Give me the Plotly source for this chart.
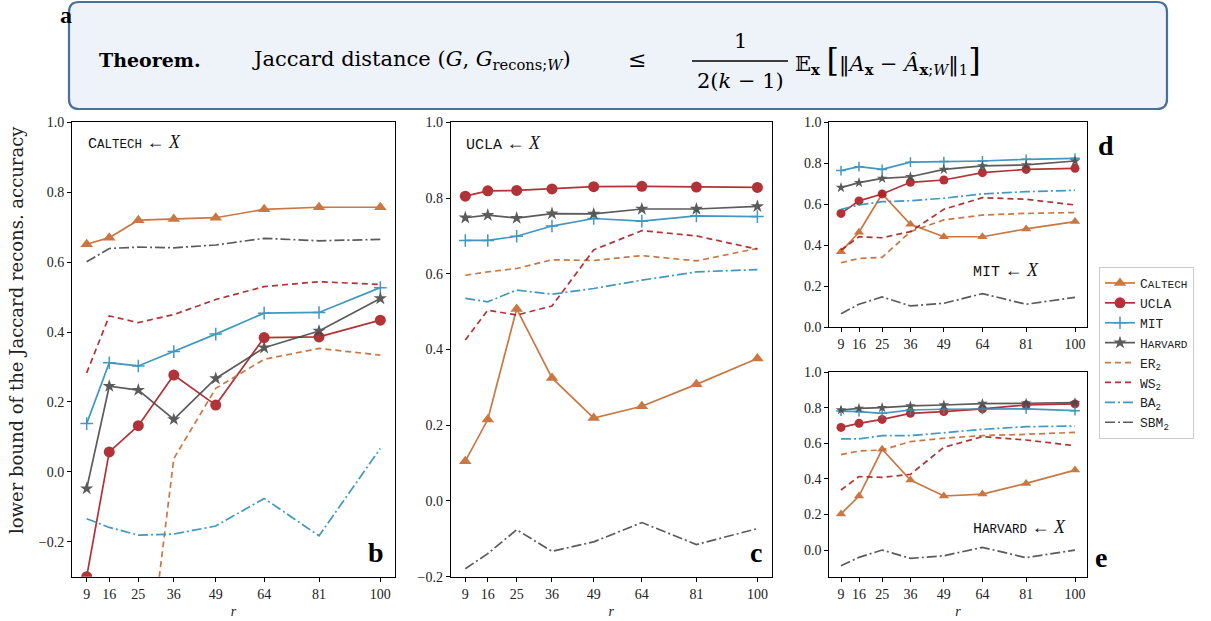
import plotly.graph_objects as go

# ---------------- data ----------------
r_vals = [9, 16, 25, 36, 49, 64, 81, 100]
r_ticks = ["9", "16", "25", "36", "49", "64", "81", "100"]

# panel b: Caltech <- X
b_caltech = [0.651, 0.670, 0.720, 0.723, 0.727, 0.751, 0.757, 0.757]
b_ucla = [-0.300, 0.057, 0.132, 0.277, 0.191, 0.384, 0.386, 0.434]
b_mit = [0.138, 0.312, 0.303, 0.344, 0.394, 0.454, 0.456, 0.527]
b_harvard = [-0.048, 0.245, 0.234, 0.150, 0.267, 0.355, 0.403, 0.496]
b_er = [-1.60, -1.20, -0.79, 0.038, 0.239, 0.322, 0.353, 0.334]
b_ws = [0.283, 0.446, 0.427, 0.450, 0.493, 0.530, 0.544, 0.536]
b_ba = [-0.134, -0.159, -0.181, -0.178, -0.155, -0.076, -0.183, 0.067]
b_sbm = [0.601, 0.639, 0.643, 0.641, 0.649, 0.668, 0.661, 0.665]

# panel c: UCLA <- X
c_caltech = [0.105, 0.215, 0.507, 0.325, 0.219, 0.250, 0.308, 0.376]
c_ucla = [0.805, 0.819, 0.820, 0.824, 0.830, 0.831, 0.829, 0.828]
c_mit = [0.688, 0.688, 0.699, 0.726, 0.746, 0.739, 0.753, 0.751]
c_harvard = [0.748, 0.755, 0.747, 0.759, 0.758, 0.771, 0.771, 0.778]
c_er = [0.596, 0.605, 0.614, 0.637, 0.635, 0.648, 0.634, 0.667]
c_ws = [0.425, 0.504, 0.491, 0.515, 0.663, 0.714, 0.700, 0.665]
c_ba = [0.535, 0.526, 0.557, 0.546, 0.561, 0.583, 0.605, 0.611]
c_sbm = [-0.179, -0.139, -0.076, -0.133, -0.108, -0.057, -0.115, -0.073]

# panel d: MIT <- X
d_caltech = [0.368, 0.463, 0.650, 0.502, 0.441, 0.441, 0.479, 0.515]
d_ucla = [0.555, 0.616, 0.650, 0.707, 0.718, 0.754, 0.770, 0.775]
d_mit = [0.764, 0.783, 0.770, 0.805, 0.808, 0.811, 0.819, 0.824]
d_harvard = [0.681, 0.705, 0.726, 0.734, 0.770, 0.787, 0.792, 0.811]
d_er = [0.314, 0.335, 0.340, 0.466, 0.523, 0.547, 0.555, 0.559]
d_ws = [0.376, 0.441, 0.436, 0.466, 0.575, 0.632, 0.624, 0.596]
d_ba = [0.575, 0.596, 0.612, 0.617, 0.629, 0.650, 0.661, 0.668]
d_sbm = [0.065, 0.111, 0.147, 0.103, 0.116, 0.163, 0.111, 0.145]

# panel e: Harvard <- X
e_caltech = [0.203, 0.304, 0.567, 0.394, 0.304, 0.315, 0.375, 0.450]
e_ucla = [0.690, 0.713, 0.735, 0.769, 0.779, 0.794, 0.816, 0.822]
e_mit = [0.782, 0.779, 0.769, 0.788, 0.792, 0.792, 0.794, 0.784]
e_harvard = [0.788, 0.797, 0.801, 0.811, 0.816, 0.824, 0.826, 0.829]
e_er = [0.537, 0.557, 0.563, 0.610, 0.629, 0.644, 0.651, 0.662]
e_ws = [0.338, 0.413, 0.409, 0.426, 0.578, 0.638, 0.619, 0.587]
e_ba = [0.625, 0.625, 0.644, 0.644, 0.660, 0.679, 0.694, 0.698]
e_sbm = [-0.088, -0.041, 0.000, -0.047, -0.032, 0.015, -0.043, 0.000]

# ---------------- style ----------------
W, H = 1211, 621
ORANGE = "#c4692f"
RED = "#a91e22"
BLUE = "#2d8dba"
GRAY = "#4a4a4a"
SERIF = "Liberation Serif, DejaVu Serif, serif"
WSERIF = "DejaVu Serif, Liberation Serif, serif"
MONO = "Liberation Mono, DejaVu Sans Mono, monospace"
DASH = "6px,4px"
DASHDOT = "10px,3px,2px,3px"


def sc(first, rest, big=15, small=12):
    return f"<span style='font-size:{big}px'>{first}</span><span style='font-size:{small}px'>{rest}</span>"


names = [
    sc("C", "ALTECH", 13, 11),
    "UCLA",
    "MIT",
    sc("H", "ARVARD", 13, 11),
    "ER<sub>2</sub>",
    "WS<sub>2</sub>",
    "BA<sub>2</sub>",
    "SBM<sub>2</sub>",
]
colors = [ORANGE, RED, BLUE, GRAY, ORANGE, RED, BLUE, GRAY]
dashes = ["solid", "solid", "solid", "solid", DASH, DASH, DASHDOT, DASHDOT]
symbols = ["triangle-up", "circle", "cross-thin", "star", None, None, None, None]

panels = [
    ("x", "y", [b_caltech, b_ucla, b_mit, b_harvard, b_er, b_ws, b_ba, b_sbm], 11, True),
    ("x2", "y2", [c_caltech, c_ucla, c_mit, c_harvard, c_er, c_ws, c_ba, c_sbm], 11, False),
    ("x3", "y3", [d_caltech, d_ucla, d_mit, d_harvard, d_er, d_ws, d_ba, d_sbm], 9, False),
    ("x4", "y4", [e_caltech, e_ucla, e_mit, e_harvard, e_er, e_ws, e_ba, e_sbm], 9, False),
]

fig = go.Figure()
for xa, ya, series, msize, show in panels:
    for i, vals in enumerate(series):
        sym = symbols[i]
        kw = dict(mode="lines")
        if sym:
            kw["mode"] = "lines+markers"
            if sym == "cross-thin":
                kw["marker"] = dict(symbol=sym, size=msize - 2, color=colors[i],
                                    line=dict(color=colors[i], width=1.5))
            else:
                kw["marker"] = dict(symbol=sym, size=msize if sym != "star" else msize - 1,
                                    color=colors[i], line=dict(width=0))
        fig.add_trace(go.Scatter(
            x=r_vals, y=vals, xaxis=xa, yaxis=ya, name=names[i],
            line=dict(color=colors[i], width=1.7, dash=dashes[i]),
            opacity=0.9, showlegend=show, **kw))


def px_x(p):
    return p / W


def px_y(p):
    return 1 - p / H


b_dom_x = [px_x(72), px_x(395)]
c_dom_x = [px_x(450.7), px_x(772)]
de_dom_x = [px_x(829.3), px_x(1086.7)]
bc_dom_y = [px_y(576.7), px_y(122.3)]
d_dom_y = [px_y(327), px_y(122.3)]
e_dom_y = [px_y(576.7), px_y(372.3)]

xcommon = dict(range=[4.45, 104.55], tickvals=r_vals, ticktext=r_ticks, automargin=False,
               showline=True, mirror=True, linecolor="black", linewidth=1,
               ticks="outside", ticklen=4, tickcolor="black", showgrid=False,
               zeroline=False, tickfont=dict(family=SERIF, size=14, color="#222"))
ycommon = dict(showline=True, mirror=True, linecolor="black", linewidth=1, automargin=False,
               ticks="outside", ticklen=4, tickcolor="black", showgrid=False,
               zeroline=False, tickfont=dict(family=SERIF, size=14, color="#222"),
               tickformat=".1f")
rtitle = dict(text="<i>r</i>", font=dict(family=SERIF, size=14, color="#222"), standoff=5)

fig.update_layout(
    width=W, height=H, autosize=False,
    margin=dict(l=0, r=0, t=0, b=0, autoexpand=False),
    paper_bgcolor="white", plot_bgcolor="white",
    xaxis=dict(domain=b_dom_x, anchor="y", title=rtitle, **xcommon),
    yaxis=dict(domain=bc_dom_y, anchor="x", range=[-0.3, 1.0], dtick=0.2, **ycommon),
    xaxis2=dict(domain=c_dom_x, anchor="y2", title=rtitle, **xcommon),
    yaxis2=dict(domain=bc_dom_y, anchor="x2", range=[-0.2, 1.0], dtick=0.2, **ycommon),
    xaxis3=dict(domain=de_dom_x, anchor="y3", **xcommon),
    yaxis3=dict(domain=d_dom_y, anchor="x3", range=[0, 1.0], dtick=0.2, **ycommon),
    xaxis4=dict(domain=de_dom_x, anchor="y4", title=rtitle, **xcommon),
    yaxis4=dict(domain=e_dom_y, anchor="x4", range=[-0.15, 1.0], tickvals=[0, 0.2, 0.4, 0.6, 0.8, 1.0],
                **ycommon),
    legend=dict(x=px_x(1099), y=px_y(267), xanchor="left", yanchor="top",
                bgcolor="white", bordercolor="#cccccc", borderwidth=1,
                font=dict(family=MONO, size=13, color="#222"),
                itemwidth=30, tracegroupgap=0),
)

# ---------------- header box ----------------
x0, x1, y0, y1, rr = 69, 1167, 2, 109, 10
pts = lambda a, b: f"{px_x(a):.5f},{px_y(b):.5f}"
path = (f"M {pts(x0 + rr, y0)} L {pts(x1 - rr, y0)} Q {pts(x1, y0)} {pts(x1, y0 + rr)} "
        f"L {pts(x1, y1 - rr)} Q {pts(x1, y1)} {pts(x1 - rr, y1)} "
        f"L {pts(x0 + rr, y1)} Q {pts(x0, y1)} {pts(x0, y1 - rr)} "
        f"L {pts(x0, y0 + rr)} Q {pts(x0, y0)} {pts(x0 + rr, y0)} Z")
fig.add_shape(type="path", path=path, xref="paper", yref="paper",
              fillcolor="#eef3fa", line=dict(color="#4a6f9a", width=2.2), layer="below")
# fraction bar
fig.add_shape(type="line", xref="paper", yref="paper",
              x0=px_x(692), x1=px_x(788), y0=px_y(61), y1=px_y(61),
              line=dict(color="black", width=1.5))

HFONT = WSERIF


def ann(text, x, y, size, xanchor="left", yanchor="middle", family=HFONT, color="black", angle=0):
    fig.add_annotation(text=text, x=px_x(x), y=px_y(y), xref="paper", yref="paper",
                       xanchor=xanchor, yanchor=yanchor, showarrow=False, textangle=angle,
                       font=dict(family=family, size=size, color=color))


ann("<b>a</b>", 58, 15, 24, family=SERIF)
ann("<b>Theorem.</b>", 97, 60, 19, family=WSERIF)
ann("Jaccard distance (<i>G</i>, <i>G</i><sub>recons;<i>W</i></sub>)", 250, 60, 21)
ann("≤", 637, 60, 22, xanchor="center")
ann("1", 740, 41, 21, xanchor="center")
ann("2(<i>k</i> − 1)", 740, 81, 21, xanchor="center")
ann("𝔼<sub><b>x</b></sub> <span style='font-size:32px'>[</span>‖<i>A</i><sub><b>x</b></sub> − "
    "<i>Â</i><sub><b>x</b>;<i>W</i></sub>‖<sub>1</sub><span style='font-size:32px'>]</span>",
    793, 60, 21)

# y-axis label of panel b
ann("lower bound of the Jaccard recons. accuracy", 16, 330, 18, xanchor="center",
    family=WSERIF, color="#222", angle=-90)

# ---------------- panel labels ----------------
arrowX = "<span style='font-family:Liberation Serif;font-size:18px'> ← <i>X</i></span>"
ann(sc("C", "ALTECH", 15, 12.5) + arrowX, 86, 142, 15, family=MONO, color="#111")
ann("UCLA" + arrowX, 464, 143, 15, family=MONO, color="#111")
ann("MIT" + arrowX, 971, 271, 15, family=MONO, color="#111")
ann(sc("H", "ARVARD", 15, 12.5) + arrowX, 971, 527, 15, family=MONO, color="#111")

ann("<b>b</b>", 376, 552, 28, xanchor="center", family=SERIF)
ann("<b>c</b>", 756, 552, 28, xanchor="center", family=SERIF)
ann("<b>d</b>", 1106, 146, 28, xanchor="center", family=SERIF)
ann("<b>e</b>", 1101, 557, 28, xanchor="center", family=SERIF)

fig.write_html("out.html", config={"displayModeBar": False},
               post_script="document.body.style.margin='0px';")
